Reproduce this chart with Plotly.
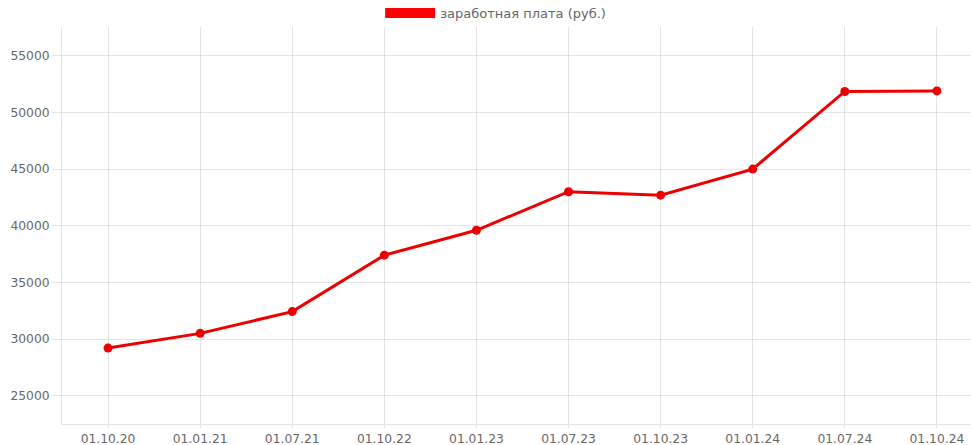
import plotly.graph_objects as go

dates = ["01.10.20", "01.01.21", "01.07.21", "01.10.22", "01.01.23",
         "01.07.23", "01.10.23", "01.01.24", "01.07.24", "01.10.24"]
salary = [29200, 30500, 32420, 37400, 39600, 43000, 42700, 45000, 51850, 51900]
series_name = "заработная плата (руб.)"
y_ticks = [25000, 30000, 35000, 40000, 45000, 50000, 55000]

line_color = "rgb(238,0,0)"
grid_color = "rgba(0,0,0,0.1)"
text_color = "#666666"
font_family = "DejaVu Sans, Liberation Sans, Arial, sans-serif"
fs = 12.3

fig = go.Figure()
fig.add_trace(go.Scatter(
    x=dates, y=salary, mode="lines+markers",
    line=dict(color=line_color, width=3),
    marker=dict(color=line_color, size=9),
    showlegend=False, hoverinfo="x+y",
))
# legend entry (filled box like the original)
fig.add_trace(go.Scatter(
    x=[None], y=[None], mode="lines", name=series_name,
    line=dict(color="red", width=11), showlegend=True,
))

fig.update_layout(
    width=971, height=445,
    margin=dict(l=62, r=0, t=27, b=21, autoexpand=False),
    paper_bgcolor="white", plot_bgcolor="white",
    font=dict(family=font_family, size=fs, color=text_color),
    legend=dict(orientation="h", x=0.35, y=1.035, xanchor="left", yanchor="middle",
                itemwidth=50, font=dict(size=13, color=text_color),
                bgcolor="rgba(0,0,0,0)", tracegroupgap=0),
)
fig.update_xaxes(
    type="category", range=[-0.5, 9.37], automargin=False,
    showgrid=True, gridcolor=grid_color, gridwidth=1,
    showline=True, linecolor=grid_color, linewidth=1,
    ticks="outside", ticklen=3, tickcolor=grid_color,
    tickfont=dict(size=fs, color=text_color), zeroline=False,
)
fig.update_yaxes(
    range=[22500, 57540], tickvals=y_ticks, tickformat="d", automargin=False,
    showgrid=True, gridcolor=grid_color, gridwidth=1,
    showline=True, linecolor=grid_color, linewidth=1,
    ticks="outside", ticklen=9, tickcolor=grid_color,
    tickfont=dict(size=fs, color=text_color), zeroline=False,
)

fig.write_html("out.html", config={"displayModeBar": False},
               post_script="document.body.style.margin='0';")
